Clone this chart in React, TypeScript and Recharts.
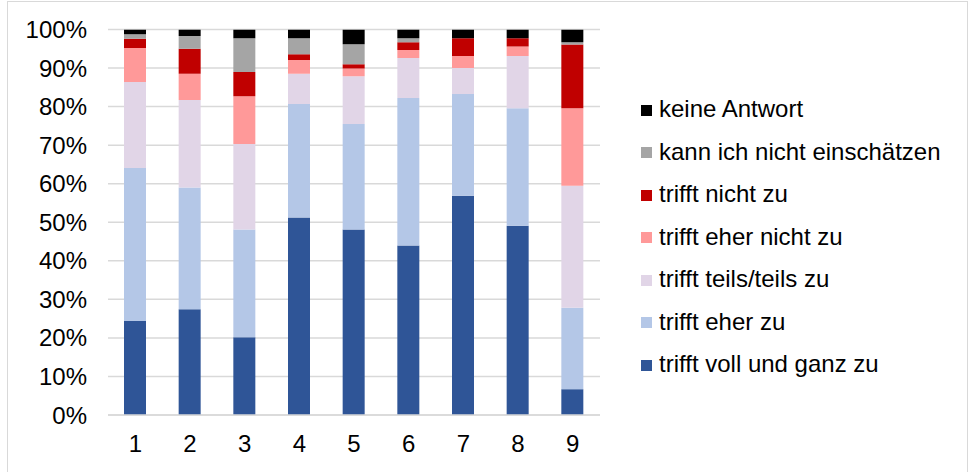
import React from "react";
import { BarChart, Bar, XAxis, YAxis, CartesianGrid } from "recharts";

const categories = ["1", "2", "3", "4", "5", "6", "7", "8", "9"];

const vollUndGanz = [24.4, 27.4, 20.2, 51.2, 48.1, 44.0, 56.9, 49.1, 6.7];
const eherZu = [39.7, 31.6, 27.9, 29.5, 27.4, 38.2, 26.4, 30.5, 21.1];
const teilsTeils = [22.3, 22.7, 22.2, 7.8, 12.4, 10.4, 6.7, 13.5, 31.7];
const eherNicht = [8.8, 6.8, 12.4, 3.6, 2.0, 2.1, 3.1, 2.5, 20.1];
const nichtZu = [2.4, 6.5, 6.3, 1.5, 1.1, 2.0, 4.6, 2.1, 16.5];
const kannNicht = [1.2, 3.3, 8.7, 4.1, 5.2, 1.0, 0, 0, 0.6];
const keineAntwort = [1.2, 1.7, 2.3, 2.3, 3.8, 2.3, 2.3, 2.3, 3.3];

const yTicks = [0, 10, 20, 30, 40, 50, 60, 70, 80, 90, 100];

// bottom to top stacking order
const series = [
  { key: "voll", name: "trifft voll und ganz zu", color: "#2f5597", values: vollUndGanz },
  { key: "eherZu", name: "trifft eher zu", color: "#b4c7e7", values: eherZu },
  { key: "teils", name: "trifft teils/teils zu", color: "#e1d5e7", values: teilsTeils },
  { key: "eherNicht", name: "trifft eher nicht zu", color: "#ff9999", values: eherNicht },
  { key: "nicht", name: "trifft nicht zu", color: "#c00000", values: nichtZu },
  { key: "kann", name: "kann ich nicht einschätzen", color: "#a5a5a5", values: kannNicht },
  { key: "keine", name: "keine Antwort", color: "#000000", values: keineAntwort },
];

const data = categories.map((c, i) => {
  const row: Record<string, string | number> = { cat: c };
  series.forEach((s) => {
    row[s.key] = s.values[i];
  });
  return row;
});

const FONT = "'Liberation Sans', Arial, sans-serif";

export default function App() {
  const legendItems = [...series].reverse();
  return (
    <div
      style={{
        position: "absolute",
        left: 0,
        top: 0,
        width: 970,
        height: 472,
        overflow: "hidden",
        background: "#fff",
        fontFamily: FONT,
      }}
    >
      <div
        style={{
          position: "absolute",
          left: 7,
          top: 1,
          width: 959,
          height: 480,
          border: "1.5px solid #d9d9d9",
        }}
      />
      <div style={{ position: "absolute", left: 0, top: 0 }}>
        <BarChart
          width={970}
          height={472}
          data={data}
          margin={{ top: 29.5, right: 370, bottom: 0, left: 0 }}
        >
          <CartesianGrid vertical={false} stroke="#d9d9d9" strokeWidth={1.5} />
          <XAxis
            dataKey="cat"
            height={57}
            tickLine={false}
            tickSize={0}
            tickMargin={20}
            axisLine={{ stroke: "#d9d9d9", strokeWidth: 1.5 }}
            tick={{ fill: "#000", fontSize: 24, fontFamily: FONT }}
            interval={0}
          />
          <YAxis
            width={108}
            domain={[0, 100]}
            ticks={yTicks}
            tickFormatter={(v: number) => `${v}%`}
            tickLine={false}
            tickSize={0}
            tickMargin={21}
            axisLine={false}
            allowDataOverflow
            tick={{ fill: "#000", fontSize: 24, fontFamily: FONT }}
          />
          {series.map((s) => (
            <Bar
              key={s.key}
              dataKey={s.key}
              name={s.name}
              stackId="a"
              fill={s.color}
              barSize={22}
              isAnimationActive={false}
            />
          ))}
        </BarChart>
      </div>
      <div style={{ position: "absolute", left: 641, top: 87.5 }}>
        {legendItems.map((s) => (
          <div
            key={s.key}
            style={{
              display: "flex",
              alignItems: "center",
              height: 42.5,
              fontSize: 24,
              lineHeight: "27px",
              color: "#000",
              whiteSpace: "nowrap",
            }}
          >
            <span
              style={{
                display: "inline-block",
                width: 11,
                height: 11,
                background: s.color,
                marginRight: 7,
                position: "relative",
                top: 1.5,
              }}
            />
            <span>{s.name}</span>
          </div>
        ))}
      </div>
    </div>
  );
}
